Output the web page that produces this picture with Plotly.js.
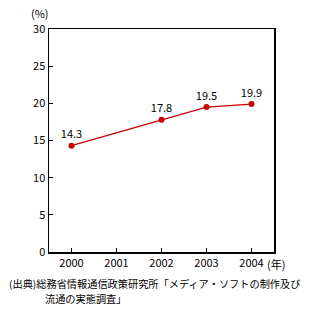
<!DOCTYPE html>
<html><head><meta charset="utf-8">
<script src="https://cdn.plot.ly/plotly-3.0.1.min.js"></script>
<style>body{margin:0;background:#fff}#c{width:314px;height:315px}</style>
</head><body><div id="c"></div>
<script>
const years = [2000, 2002, 2003, 2004];
const values = [14.3, 17.8, 19.5, 19.9];
const labels = ['14.3', '17.8', '19.5', '19.9'];
const xTicks = [2000, 2001, 2002, 2003, 2004];
const xTickText = ['2000', '2001', '2002', '2003', '2004'];
const yTicks = [0, 5, 10, 15, 20, 25, 30];

const font = {family: '"Noto Sans CJK JP", "Noto Sans", sans-serif', size: 11, color: '#000'};
const capFont = {family: font.family, size: 10.2, color: '#000'};
Plotly.newPlot('c', [{
  x: years, y: values, text: labels,
  mode: 'lines+markers+text', textposition: 'top center',
  textfont: font,
  line: {color: '#cc0000', width: 1.3},
  marker: {color: '#cc0000', size: 6, symbol: 'circle'},
  cliponaxis: false, hoverinfo: 'none'
}], {
  width: 314, height: 315,
  margin: {l: 49, r: 40, t: 29, b: 63},
  paper_bgcolor: '#fff', plot_bgcolor: '#fff',
  showlegend: false, font: font,
  xaxis: {range: [1999.5, 2004.5], tickvals: xTicks, ticktext: xTickText,
    ticks: 'inside', ticklen: 4, tickcolor: '#000', showgrid: false, zeroline: false,
    showline: true, linecolor: '#000', linewidth: 1.5, mirror: true, tickfont: font, fixedrange: true},
  yaxis: {range: [0, 30], tickvals: yTicks,
    ticks: 'inside', ticklen: 4, tickcolor: '#000', showgrid: false, zeroline: false,
    showline: true, linecolor: '#000', linewidth: 1.5, mirror: true, tickfont: font, fixedrange: true},
  annotations: [
    {text: '(%)', xref: 'paper', yref: 'paper', x: 0, y: 1, xanchor: 'right', yanchor: 'bottom', yshift: 6, xshift: 2, showarrow: false, font: font},
    {text: '(年)', xref: 'x', yref: 'paper', x: 2004, y: 0, xanchor: 'left', yanchor: 'top', xshift: 13, yshift: -2, showarrow: false, font: font},
    {text: '(出典)総務省情報通信政策研究所「メディア・ソフトの制作及び', xref: 'paper', yref: 'paper', x: 0, y: 0, xanchor: 'left', yanchor: 'middle', xshift: -42, yshift: -31, showarrow: false, font: capFont},
    {text: '流通の実態調査」', xref: 'paper', yref: 'paper', x: 0, y: 0, xanchor: 'left', yanchor: 'middle', xshift: -6, yshift: -46, showarrow: false, font: capFont}
  ]
}, {staticPlot: true});
</script></body></html>
